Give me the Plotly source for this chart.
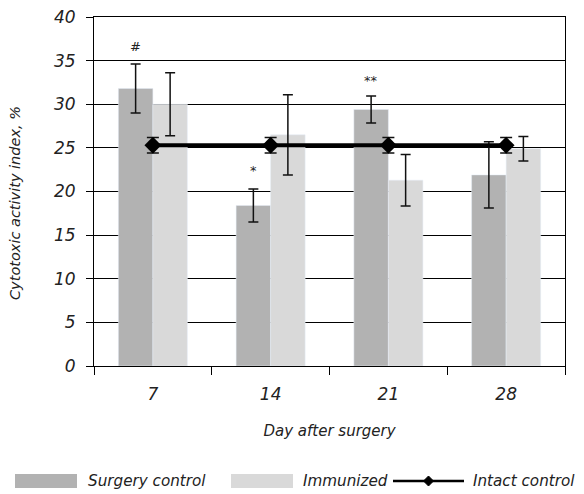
import plotly.graph_objects as go

days = ["7", "14", "21", "28"]
surgery = [31.8, 18.4, 29.4, 21.9]
surgery_err = [2.8, 1.9, 1.55, 3.8]
immunized = [30.0, 26.5, 21.3, 24.9]
immunized_err = [3.6, 4.6, 2.95, 1.4]
intact = [25.3, 25.3, 25.3, 25.3]
intact_err = [0.9, 0.9, 0.9, 0.9]
marks = ["#", "*", "**", ""]
mark_y = [36.6, 22.4, 32.7, 0]
series_names = ["Surgery control", "Immunized", "Intact control"]
series_colors = ["#b2b2b2", "#d9d9d9", "black"]

FONT = "DejaVu Sans"
TXT = "#222"
fig = go.Figure()
fig.add_trace(go.Bar(
    x=days, y=surgery, name=series_names[0], marker_color=series_colors[0],
    error_y=dict(type="data", array=surgery_err, color="#111", thickness=1.5, width=5),
))
fig.add_trace(go.Bar(
    x=days, y=immunized, name=series_names[1], marker_color=series_colors[1],
    error_y=dict(type="data", array=immunized_err, color="#111", thickness=1.5, width=5),
))
fig.add_trace(go.Scatter(
    x=days, y=intact, name=series_names[2], mode="lines+markers",
    line=dict(color=series_colors[2], width=4),
    marker=dict(symbol="diamond", size=13, color=series_colors[2]),
    error_y=dict(type="data", array=intact_err, color="#111", thickness=1.5, width=6),
))

offset = 0.1465
for i, (m, yv) in enumerate(zip(marks, mark_y)):
    if m:
        fig.add_annotation(x=i - offset, y=yv, text=m, showarrow=False,
                           font=dict(family=FONT, size=13, color=TXT, style="italic"))

# custom legend (wide swatches like the original)
W, H = 471.0, 349.0
def px(x):
    return (x - 94) / W
def py(y):
    return (366 - y) / H

fig.add_shape(type="rect", xref="paper", yref="paper", x0=px(15), x1=px(77),
              y0=py(488), y1=py(474), fillcolor=series_colors[0], line_width=0)
fig.add_shape(type="rect", xref="paper", yref="paper", x0=px(231), x1=px(293),
              y0=py(488), y1=py(474), fillcolor=series_colors[1], line_width=0)
fig.add_shape(type="line", xref="paper", yref="paper", x0=px(393), x1=px(464),
              y0=py(481), y1=py(481), line=dict(color="black", width=2.5))
cx, cy, r = 428.5, 481, 5
fig.add_shape(type="path", xref="paper", yref="paper",
              path=f"M {px(cx-r)},{py(cy)} L {px(cx)},{py(cy-r)} L {px(cx+r)},{py(cy)} "
                   f"L {px(cx)},{py(cy+r)} Z",
              fillcolor="black", line=dict(color="black", width=1))
for xs, name in zip([88, 303, 473], series_names):
    fig.add_annotation(xref="paper", yref="paper", x=px(xs), y=py(481), text=name,
                       showarrow=False, xanchor="left", yanchor="middle", xshift=-2,
                       font=dict(family=FONT, size=15.2, color=TXT, style="italic"))

fig.add_annotation(xref="paper", yref="paper", x=px(15), y=py(203),
                   text="Cytotoxic activity index, %", textangle=-90, showarrow=False,
                   xanchor="center", yanchor="middle",
                   font=dict(family=FONT, size=14.5, color=TXT, style="italic"))

fig.update_layout(
    width=584, height=494,
    margin=dict(l=94, r=19, t=17, b=128, autoexpand=False),
    plot_bgcolor="white", paper_bgcolor="white",
    barmode="group", bargap=0.414, bargroupgap=0,
    font=dict(family=FONT, size=15, color=TXT, style="italic"),
    showlegend=False,
    xaxis=dict(
        type="category", showline=True, linecolor="black", linewidth=1, mirror=True,
        ticks="outside", ticklen=8, tickcolor="black", tickson="boundaries",
        showgrid=False, automargin=False,
        tickfont=dict(family=FONT, size=17, style="italic", color=TXT),
        ticklabelstandoff=13,
        title=dict(text="Day after surgery", standoff=22,
                   font=dict(family=FONT, size=15, style="italic", color=TXT)),
    ),
    yaxis=dict(
        range=[0, 40], dtick=5, showline=True, linecolor="black", linewidth=1, mirror=True,
        ticks="outside", ticklen=7, tickcolor="black",
        showgrid=True, gridcolor="black", gridwidth=1, automargin=False,
        tickfont=dict(family=FONT, size=17, style="italic", color=TXT),
        ticklabelstandoff=7,
        zeroline=False,
    ),
)

fig.write_html("out.html")
